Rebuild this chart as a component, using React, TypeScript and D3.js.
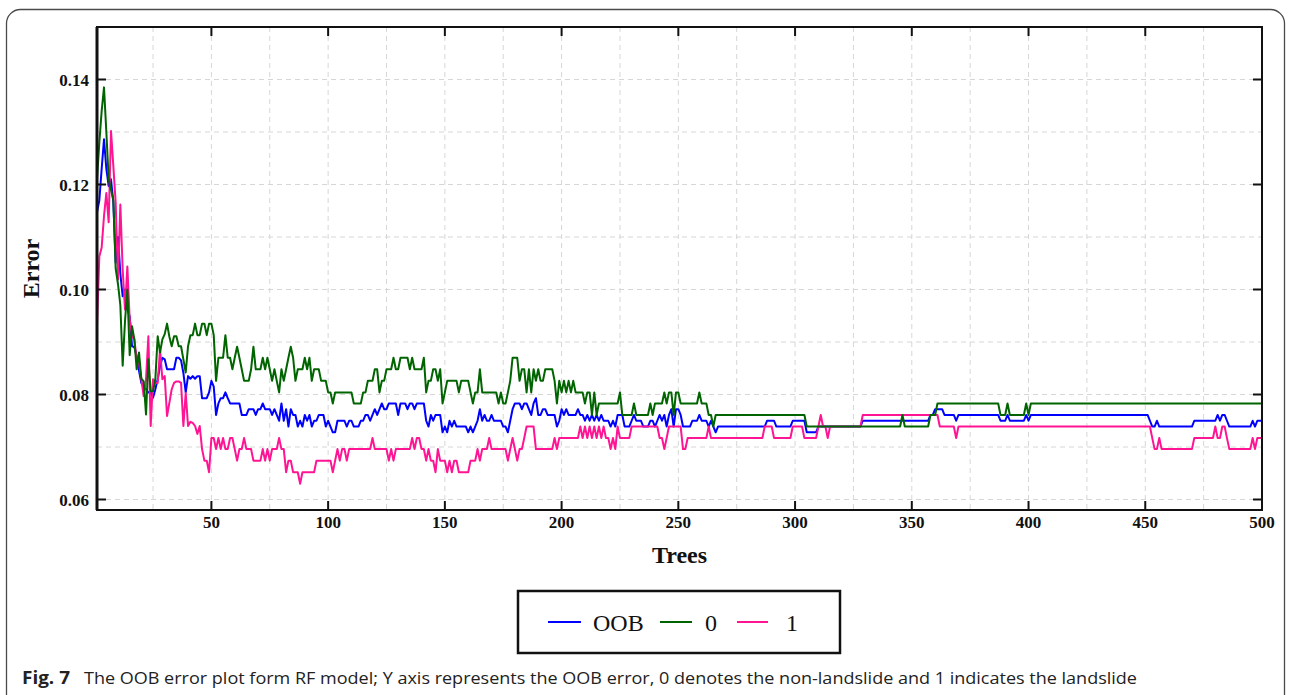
import React from "react";
import * as d3 from "d3";

// run-length values: [error, number of trees]
const oobRuns: [number, number][] = [
  [0.1147, 1], [0.117, 1], [0.123, 1], [0.1286, 1], [0.123, 1], [0.1197, 1], [0.121, 1], [0.1166, 1],
  [0.1051, 1], [0.11, 1], [0.103, 1], [0.0987, 1], [0.1, 1], [0.0962, 1], [0.0949, 1], [0.0892, 1],
  [0.089, 1], [0.0873, 1], [0.0845, 1], [0.0822, 1], [0.0815, 1], [0.081, 1], [0.0804, 2], [0.0794, 1],
  [0.081, 1], [0.0829, 1], [0.0854, 1], [0.087, 1], [0.0867, 1], [0.0848, 4], [0.087, 2], [0.0865, 1],
  [0.0841, 1], [0.0804, 1], [0.0835, 1], [0.083, 1], [0.0835, 1], [0.083, 1], [0.0835, 2], [0.0793, 3],
  [0.0804, 1], [0.0826, 1], [0.0815, 1], [0.0761, 1], [0.0783, 1], [0.0793, 2], [0.0804, 1], [0.0793, 1],
  [0.0783, 5], [0.0761, 3], [0.0772, 3], [0.0761, 1], [0.0772, 2], [0.0783, 1], [0.0772, 3], [0.0761, 1],
  [0.0772, 1], [0.0761, 1], [0.075, 1], [0.0783, 1], [0.075, 1], [0.0772, 1], [0.0739, 1], [0.0772, 1],
  [0.0761, 2], [0.0739, 1], [0.075, 1], [0.0739, 1], [0.0761, 1], [0.075, 1], [0.0761, 1], [0.0739, 1],
  [0.075, 2], [0.0761, 3], [0.0739, 1], [0.075, 1], [0.0739, 1], [0.0728, 2], [0.075, 4], [0.0739, 1],
  [0.075, 2], [0.0739, 3], [0.075, 2], [0.0761, 2], [0.075, 1], [0.0761, 1], [0.0772, 1], [0.0761, 1],
  [0.0772, 1], [0.0783, 1], [0.0772, 2], [0.0783, 4], [0.0761, 1], [0.0783, 3], [0.0772, 1], [0.0783, 2],
  [0.0772, 1], [0.0783, 4], [0.075, 1], [0.0739, 1], [0.0761, 1], [0.075, 1], [0.0761, 3], [0.0728, 1],
  [0.0739, 1], [0.0728, 1], [0.075, 1], [0.0739, 1], [0.075, 1], [0.0739, 5], [0.0728, 1], [0.0739, 1],
  [0.0728, 1], [0.0739, 1], [0.075, 1], [0.0772, 1], [0.075, 1], [0.0761, 1], [0.075, 2], [0.0761, 1],
  [0.075, 4], [0.0739, 2], [0.0728, 1], [0.075, 1], [0.0772, 1], [0.0783, 3], [0.0772, 1], [0.0783, 2],
  [0.0772, 1], [0.0761, 1], [0.0783, 1], [0.0793, 1], [0.0761, 2], [0.0772, 2], [0.0761, 4], [0.0739, 1],
  [0.075, 1], [0.0772, 1], [0.0761, 1], [0.0772, 1], [0.0761, 4], [0.0772, 1], [0.0761, 2], [0.075, 1],
  [0.0761, 1], [0.075, 1], [0.0761, 1], [0.075, 1], [0.0761, 1], [0.075, 1], [0.0761, 1], [0.075, 3],
  [0.0739, 1], [0.075, 1], [0.0739, 1], [0.0761, 3], [0.0739, 3], [0.075, 1], [0.0761, 1], [0.075, 3],
  [0.0739, 3], [0.075, 2], [0.0739, 1], [0.075, 1], [0.0761, 1], [0.075, 1], [0.0761, 1], [0.0739, 1],
  [0.0761, 1], [0.0772, 1], [0.0739, 1], [0.0772, 2], [0.0761, 1], [0.0739, 4], [0.075, 3], [0.0761, 1],
  [0.075, 3], [0.0739, 1], [0.075, 1], [0.0739, 1], [0.0728, 1], [0.0739, 21], [0.075, 4], [0.0739, 7],
  [0.075, 6], [0.0728, 5], [0.0739, 19], [0.075, 29], [0.0761, 2], [0.0772, 4], [0.0761, 5], [0.075, 1],
  [0.0761, 18], [0.075, 3], [0.0761, 1], [0.075, 7], [0.0761, 1], [0.075, 1], [0.0761, 51], [0.075, 1],
  [0.0739, 2], [0.075, 1], [0.0739, 15], [0.075, 10], [0.0761, 1], [0.075, 1], [0.0761, 2], [0.075, 1],
  [0.0739, 10], [0.075, 1], [0.0739, 1], [0.075, 3],
];

const class0Runs: [number, number][] = [
  [0.121, 1], [0.128, 1], [0.134, 1], [0.1385, 1], [0.13, 1], [0.121, 1], [0.119, 1], [0.117, 1],
  [0.104, 1], [0.101, 1], [0.097, 1], [0.0855, 1], [0.094, 1], [0.1, 1], [0.0875, 1], [0.093, 1],
  [0.0905, 1], [0.0848, 1], [0.088, 1], [0.083, 1], [0.0825, 1], [0.0762, 1], [0.0867, 1], [0.0806, 2],
  [0.083, 1], [0.0911, 1], [0.088, 1], [0.0905, 1], [0.0915, 1], [0.0935, 1], [0.091, 1], [0.0892, 1],
  [0.0911, 2], [0.0892, 2], [0.0867, 1], [0.0842, 1], [0.0892, 1], [0.0913, 2], [0.0935, 1], [0.0913, 2],
  [0.0935, 2], [0.0913, 1], [0.0935, 2], [0.0913, 1], [0.0826, 1], [0.087, 3], [0.0913, 1], [0.087, 2],
  [0.0848, 1], [0.087, 1], [0.0891, 1], [0.087, 1], [0.0848, 1], [0.0826, 3], [0.0848, 1], [0.0891, 1],
  [0.0848, 3], [0.087, 1], [0.0848, 1], [0.087, 1], [0.0848, 1], [0.0826, 1], [0.0848, 1], [0.0826, 1],
  [0.0804, 1], [0.0848, 1], [0.0826, 1], [0.0848, 1], [0.087, 1], [0.0891, 1], [0.087, 1], [0.0826, 1],
  [0.0848, 3], [0.087, 1], [0.0848, 1], [0.087, 1], [0.0826, 1], [0.0848, 3], [0.0826, 3], [0.0804, 2],
  [0.0783, 1], [0.0804, 8], [0.0783, 4], [0.0804, 2], [0.0826, 3], [0.0848, 2], [0.0804, 1], [0.0826, 2],
  [0.0848, 3], [0.087, 1], [0.0848, 2], [0.087, 4], [0.0848, 1], [0.087, 1], [0.0848, 4], [0.087, 1],
  [0.0804, 1], [0.0826, 2], [0.0848, 2], [0.0826, 1], [0.0848, 1], [0.0783, 1], [0.0804, 1], [0.0826, 5],
  [0.0804, 1], [0.0826, 4], [0.0804, 1], [0.0783, 1], [0.0804, 2], [0.0848, 1], [0.0804, 7], [0.0783, 1],
  [0.0804, 1], [0.0783, 2], [0.0804, 1], [0.0826, 1], [0.087, 3], [0.0826, 1], [0.0848, 2], [0.0804, 1],
  [0.0848, 1], [0.0804, 1], [0.0848, 1], [0.0826, 1], [0.0848, 1], [0.0826, 2], [0.0848, 4], [0.0826, 1],
  [0.0783, 1], [0.0826, 1], [0.0804, 1], [0.0826, 1], [0.0804, 1], [0.0826, 1], [0.0804, 1], [0.0826, 1],
  [0.0804, 4], [0.0783, 1], [0.0804, 2], [0.0761, 1], [0.0804, 1], [0.0761, 1], [0.0783, 9], [0.0804, 1],
  [0.0761, 5], [0.0783, 1], [0.0761, 6], [0.0783, 1], [0.0761, 1], [0.0783, 4], [0.0804, 1], [0.0783, 1],
  [0.0804, 2], [0.0761, 1], [0.0804, 2], [0.0783, 8], [0.0804, 1], [0.0783, 3], [0.0761, 2], [0.0739, 1],
  [0.0761, 39], [0.0739, 41], [0.0761, 1], [0.0739, 11], [0.0761, 3], [0.0783, 27], [0.0761, 3], [0.0783, 1],
  [0.0761, 7], [0.0783, 1], [0.0761, 1], [0.0783, 100],
];

const class1Runs: [number, number][] = [
  [0.093, 1], [0.1063, 1], [0.108, 1], [0.114, 1], [0.1184, 1], [0.1128, 1], [0.1302, 1], [0.1235, 1],
  [0.1165, 1], [0.1019, 1], [0.1162, 1], [0.1038, 1], [0.0962, 1], [0.1044, 1], [0.0943, 1], [0.0911, 1],
  [0.0905, 1], [0.0867, 1], [0.086, 1], [0.0829, 1], [0.0797, 1], [0.0829, 1], [0.0911, 1], [0.074, 1],
  [0.0829, 1], [0.0822, 2], [0.0886, 1], [0.0829, 1], [0.0835, 1], [0.0759, 1], [0.0784, 1], [0.081, 1],
  [0.0822, 1], [0.0825, 2], [0.0822, 1], [0.074, 1], [0.0803, 1], [0.074, 1], [0.0748, 1], [0.0746, 1],
  [0.074, 1], [0.0725, 1], [0.074, 1], [0.0696, 1], [0.0674, 2], [0.0652, 1], [0.0717, 2], [0.0696, 1],
  [0.0717, 1], [0.0696, 1], [0.0717, 1], [0.0696, 2], [0.0717, 2], [0.0696, 1], [0.0674, 1], [0.0696, 2],
  [0.0717, 1], [0.0696, 3], [0.0674, 4], [0.0696, 1], [0.0674, 1], [0.0696, 1], [0.0674, 1], [0.0696, 3],
  [0.0717, 1], [0.0696, 2], [0.0652, 1], [0.0674, 2], [0.0652, 3], [0.063, 1], [0.0652, 6], [0.0674, 7],
  [0.0652, 1], [0.0674, 1], [0.0696, 1], [0.0674, 1], [0.0696, 2], [0.0674, 1], [0.0696, 10], [0.0717, 1],
  [0.0696, 6], [0.0674, 1], [0.0696, 1], [0.0674, 1], [0.0696, 7], [0.0717, 1], [0.0696, 1], [0.0717, 2],
  [0.0696, 2], [0.0674, 1], [0.0696, 1], [0.0674, 2], [0.0652, 1], [0.0696, 1], [0.0674, 3], [0.0652, 1],
  [0.0674, 1], [0.0652, 1], [0.0674, 2], [0.0652, 5], [0.0674, 3], [0.0696, 1], [0.0674, 1], [0.0696, 3],
  [0.0717, 1], [0.0696, 7], [0.0674, 1], [0.0696, 1], [0.0717, 1], [0.0696, 1], [0.0674, 1], [0.0696, 2],
  [0.0717, 1], [0.0739, 4], [0.0696, 8], [0.0717, 1], [0.0696, 1], [0.0717, 9], [0.0739, 1], [0.0717, 1],
  [0.0739, 1], [0.0717, 1], [0.0739, 1], [0.0717, 1], [0.0739, 1], [0.0717, 1], [0.0739, 1], [0.0717, 1],
  [0.0739, 1], [0.0717, 2], [0.0696, 1], [0.0717, 1], [0.0696, 1], [0.0739, 1], [0.0717, 5], [0.0739, 12],
  [0.0717, 2], [0.0696, 1], [0.0717, 1], [0.0739, 6], [0.0696, 2], [0.0717, 9], [0.0739, 1], [0.0717, 23],
  [0.0739, 4], [0.0717, 8], [0.0739, 5], [0.0717, 6], [0.0739, 1], [0.0761, 1], [0.0739, 2], [0.0717, 1],
  [0.0739, 14], [0.0761, 33], [0.0739, 7], [0.0717, 1], [0.0739, 83], [0.0717, 1], [0.0696, 2], [0.0717, 1],
  [0.0696, 14], [0.0717, 9], [0.0739, 1], [0.0717, 2], [0.0739, 2], [0.0717, 1], [0.0696, 10], [0.0717, 1],
  [0.0696, 1], [0.0717, 3],
];

const seriesNames = ["OOB", "0", "1"];
const seriesColors = ["#0000ff", "#006400", "#ff1493"];
const yTicks = [0.06, 0.08, 0.1, 0.12, 0.14];
const yTickLabels = ["0.06", "0.08", "0.10", "0.12", "0.14"];
const xTicks = [50, 100, 150, 200, 250, 300, 350, 400, 450, 500];

const expand = (runs: [number, number][]) => {
  const out: number[] = [];
  runs.forEach(([v, n]) => {
    for (let i = 0; i < n; i++) out.push(v);
  });
  return out;
};

const W = 1291;
const H = 695;
const left = 97;
const right = 1262;
const top = 27;
const bottom = 510;

export default function App() {
  const series = [expand(oobRuns), expand(class0Runs), expand(class1Runs)];

  const x = d3.scaleLinear().domain([1, 500]).range([left, right]);
  const y = d3.scaleLinear().domain([0.058, 0.15]).range([bottom, top]);

  const line = d3
    .line<number>()
    .x((_, i) => x(i + 1))
    .y((d) => y(d));

  // blue first, then pink, green on top (as in the figure)
  const drawOrder = [0, 2, 1];

  const xGrid = d3.range(25, 500, 25);
  const yGrid = d3.range(0.06, 0.1451, 0.01);

  const serif = "'Liberation Serif', 'Times New Roman', serif";

  return (
    <div style={{ position: "absolute", left: 0, top: 0 }}>
      <svg width={W} height={H} style={{ display: "block", background: "#fff" }}>
        {/* page frame */}
        <rect x={6.5} y={9.5} width={1278} height={740} rx={14} fill="none" stroke="#4a4a4a" strokeWidth={1.3} />

        <defs>
          <clipPath id="plotArea">
            <rect x={left} y={top} width={right - left} height={bottom - top} />
          </clipPath>
        </defs>

        {/* grid */}
        <g stroke="#d6d6d6" strokeWidth={1} strokeDasharray="5,4">
          {xGrid.map((t) => (
            <line key={"gx" + t} x1={x(t)} x2={x(t)} y1={top} y2={bottom} />
          ))}
          {yGrid.map((v) => (
            <line key={"gy" + v} x1={left} x2={right} y1={y(v)} y2={y(v)} />
          ))}
        </g>

        {/* series */}
        <g clipPath="url(#plotArea)" fill="none" strokeWidth={2} strokeLinejoin="round">
          {drawOrder.map((k) => (
            <path key={seriesNames[k]} d={line(series[k]) || ""} stroke={seriesColors[k]} />
          ))}
        </g>

        {/* box */}
        <rect x={left} y={top} width={right - left} height={bottom - top} fill="none" stroke="#111" strokeWidth={2} />
        <line x1={left} x2={left} y1={top} y2={bottom} stroke="#111" strokeWidth={3} />

        {/* ticks */}
        <g stroke="#111" strokeWidth={2}>
          {yTicks.map((v) => (
            <g key={"ty" + v}>
              <line x1={left} x2={left + 9} y1={y(v)} y2={y(v)} />
              <line x1={right} x2={right - 9} y1={y(v)} y2={y(v)} />
            </g>
          ))}
          {xTicks.map((t) => (
            <g key={"tx" + t}>
              <line x1={x(t)} x2={x(t)} y1={bottom} y2={bottom - 9} />
              <line x1={x(t)} x2={x(t)} y1={top} y2={top + 9} />
            </g>
          ))}
        </g>

        {/* tick labels */}
        <g fontFamily={serif} fontWeight="bold" fontSize={17} fill="#111">
          {yTicks.map((v, i) => (
            <text key={"ly" + v} x={89} y={y(v) + 6} textAnchor="end">
              {yTickLabels[i]}
            </text>
          ))}
          {xTicks.map((t) => (
            <text key={"lx" + t} x={x(t)} y={bottom + 18} textAnchor="middle">
              {t}
            </text>
          ))}
        </g>

        {/* axis titles */}
        <text
          transform={`translate(39, ${(top + bottom) / 2}) rotate(-90)`}
          textAnchor="middle"
          fontFamily={serif}
          fontWeight="bold"
          fontSize={24}
          fill="#111"
        >
          Error
        </text>
        <text x={(left + right) / 2} y={563} textAnchor="middle" fontFamily={serif} fontWeight="bold" fontSize={24} fill="#111">
          Trees
        </text>

        {/* legend */}
        <g>
          <rect x={518} y={591} width={322} height={62} fill="#fff" stroke="#111" strokeWidth={2.5} />
          {[
            { x1: 548, x2: 581, tx: 593 },
            { x1: 660, x2: 692, tx: 705 },
            { x1: 737, x2: 768, tx: 786 },
          ].map((p, i) => (
            <g key={"lg" + i}>
              <line x1={p.x1} x2={p.x2} y1={622} y2={622} stroke={seriesColors[i]} strokeWidth={2} />
              <text x={p.tx} y={631} fontFamily={serif} fontSize={24} fill="#111">
                {seriesNames[i]}
              </text>
            </g>
          ))}
        </g>

        {/* caption */}
        <g fontFamily="'Open Sans', 'Noto Sans', sans-serif" fill="#222">
          <text x={22} y={684} fontSize={17} fontWeight="bold" textLength={48} lengthAdjust="spacingAndGlyphs">
            Fig. 7
          </text>
          <text x={84} y={684} fontSize={16.5} textLength={1053} lengthAdjust="spacingAndGlyphs">
            The OOB error plot form RF model; Y axis represents the OOB error, 0 denotes the non-landslide and 1 indicates the landslide
          </text>
        </g>
      </svg>
    </div>
  );
}
